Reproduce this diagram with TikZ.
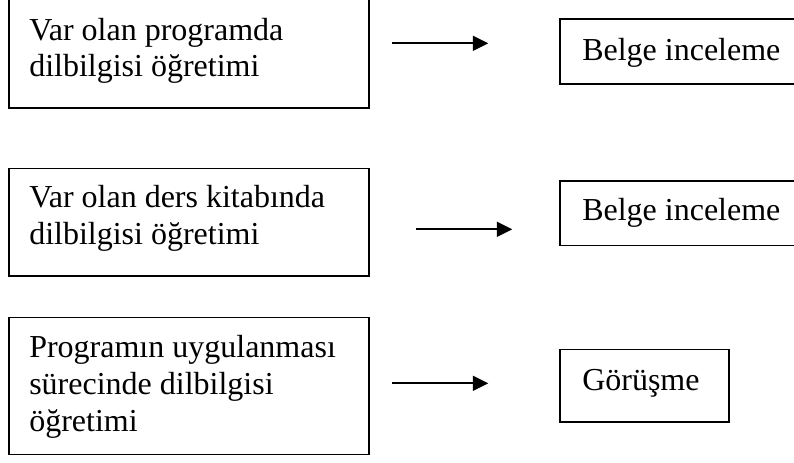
\documentclass[tikz,border=0pt]{standalone}
\usepackage{fontspec}
\setmainfont{Liberation Serif}
\usetikzlibrary{arrows.meta}
\begin{document}
\begin{tikzpicture}[x=0.75pt,y=-0.75pt,
  frame/.style={draw=black,line width=1pt,inner sep=0pt,outer sep=0pt,anchor=north west},
  txt/.style={inner sep=0pt,anchor=base west,font=\fontsize{24}{27.75}\selectfont},
  arr/.style={line width=1.5pt,-{Triangle[length=11.5pt,width=11pt]}}]
\useasboundingbox (0,0) rectangle (794,462);
\begin{scope}
\clip (0,0) rectangle (794,462);
% left boxes
\node[frame,minimum width=270pt,minimum height=84.75pt] (b1) at (9,-5) {};
\node[frame,minimum width=270pt,minimum height=80.8pt] (b2) at (9,168.3) {};
\node[frame,minimum width=270pt,minimum height=102.75pt] (b3) at (9,317.3) {};
% right boxes
\node[frame,minimum width=187.5pt,minimum height=48.75pt] (r1) at (560,19) {};
\node[frame,minimum width=187.5pt,minimum height=48.5pt] (r2) at (560,181) {};
\node[frame,minimum width=126.75pt,minimum height=54.5pt] (r3) at (560,349.3) {};
% texts
\node[txt] (t1a) at (29,40) {Var olan programda};
\node[txt] (t1b) at (29,76.7) {dilbilgisi öğretimi};
\node[txt] (t2a) at (29,207) {Var olan ders kitabında};
\node[txt] (t2b) at (29,244) {dilbilgisi öğretimi};
\node[txt] (t3a) at (29,357.3) {Programın uygulanması};
\node[txt] (t3b) at (29,394.3) {sürecinde dilbilgisi};
\node[txt] (t3c) at (29,431) {öğretimi};
\node[txt] (u1) at (582,60) {Belge inceleme};
\node[txt] (u2) at (582,220.7) {Belge inceleme};
\node[txt] (u3) at (582,390.7) {Görüşme};
% arrows
\coordinate (a1s) at (391.7,43.3);
\coordinate (a1e) at (488.3,43.3);
\coordinate (a2s) at (415.7,229.3);
\coordinate (a2e) at (512.3,229.3);
\coordinate (a3s) at (391.7,383.3);
\coordinate (a3e) at (488.3,383.3);
\draw[arr] (a1s) -- (a1e);
\draw[arr] (a2s) -- (a2e);
\draw[arr] (a3s) -- (a3e);
\end{scope}
\end{tikzpicture}
\end{document}
